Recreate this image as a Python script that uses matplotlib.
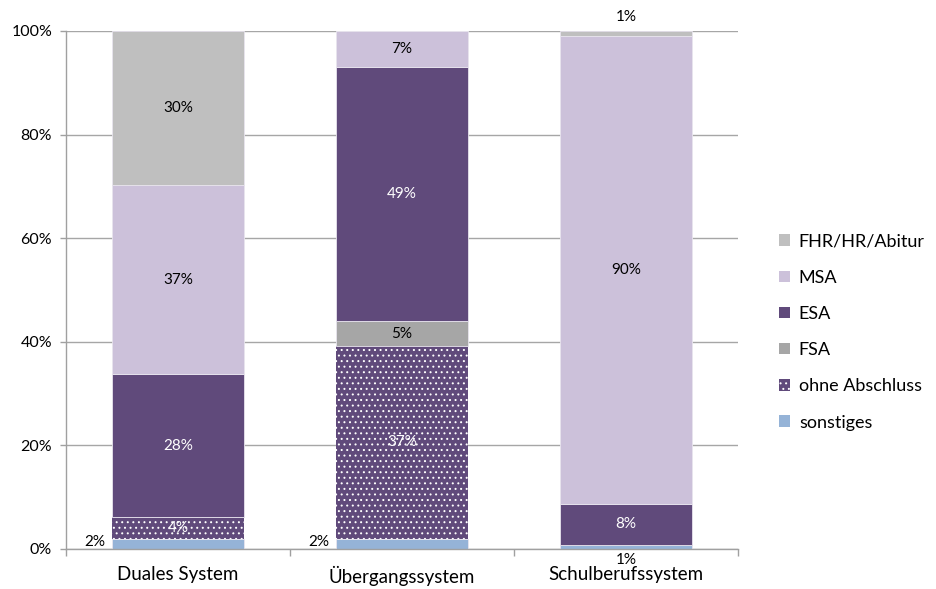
import matplotlib
matplotlib.use("Agg")
import matplotlib.pyplot as plt
import numpy as np
from matplotlib.patches import Patch

plt.rcParams['font.family'] = ['Lato', 'DejaVu Sans']
plt.rcParams['hatch.linewidth'] = 0.7

categories = ["Duales System", "Übergangssystem", "Schulberufssystem"]
series_names = ["sonstiges", "ohne Abschluss", "FSA", "ESA", "MSA", "FHR/HR/Abitur"]
sonstiges = [1.9, 2.0, 0.8]
ohne_abschluss = [4.2, 37.2, 0.0]
fsa = [0.0, 4.8, 0.0]
esa = [27.6, 49.0, 7.9]
msa = [36.6, 7.0, 90.3]
fhr = [29.7, 0.0, 1.0]
yticks = [0, 20, 40, 60, 80, 100]
ytick_labels = ["0%", "20%", "40%", "60%", "80%", "100%"]

series = [sonstiges, ohne_abschluss, fsa, esa, msa, fhr]
colors = ["#95B3D7", "#604A7B", "#A6A6A6", "#604A7B", "#CCC1DA", "#BFBFBF"]
hatches = [None, "...", None, None, None, None]
text_colors = ["black", "white", "black", "white", "black", "black"]

fig = plt.figure(figsize=(9.36, 5.89), dpi=100)
ax = fig.add_axes([66/936, 40/589, 672/936, 518/589])

x = np.arange(len(categories))
width = 0.59
bottom = np.zeros(len(categories))
fs_lab = 11
for i, (name, vals) in enumerate(zip(series_names, series)):
    vals = np.array(vals, dtype=float)
    if hatches[i]:
        ax.bar(x, vals, width, bottom=bottom, color=colors[i], edgecolor="white",
               hatch=hatches[i], linewidth=0, zorder=3)
    else:
        ax.bar(x, vals, width, bottom=bottom, color=colors[i], edgecolor="#E8E4EE",
               linewidth=0.6, zorder=3)
    for j, v in enumerate(vals):
        if v <= 0:
            continue
        lab = f"{int(round(v))}%"
        if i == 0 and v < 1:
            ax.text(x[j], -0.8, lab, ha="center", va="top", fontsize=fs_lab, color="black", zorder=5)
        elif i == 0 and v < 3:
            ax.text(x[j] - width/2 - 0.03, bottom[j] + v/2 + 0.4, lab, ha="right", va="center",
                    fontsize=fs_lab, color="black", zorder=5)
        elif i == len(series) - 1 and v < 3:
            ax.text(x[j], bottom[j] + v + 1.3, lab, ha="center", va="bottom", fontsize=fs_lab,
                    color="black", zorder=5)
        else:
            ax.text(x[j], bottom[j] + v/2, lab, ha="center", va="center", fontsize=fs_lab,
                    color=text_colors[i], zorder=5)
    bottom += vals

ax.set_xlim(-0.5, 2.5)
ax.set_ylim(0, 100)
ax.set_yticks(yticks)
ax.set_yticklabels(ytick_labels, fontsize=11.5)
ax.set_xticks(x)
ax.set_xticklabels(categories, fontsize=13.5)
ax.set_xticks([-0.5, 0.5, 1.5, 2.5], minor=True)
ax.tick_params(axis="x", which="major", length=0, pad=12)
ax.tick_params(axis="x", which="minor", length=5, color="#A0A0A0", width=1)
ax.tick_params(axis="y", length=4, color="#A0A0A0", width=1, pad=6)
ax.yaxis.grid(True, color="#A6A6A6", linewidth=1, zorder=0)
ax.set_axisbelow(True)
for s in ["top", "right"]:
    ax.spines[s].set_visible(False)
for s in ["left", "bottom"]:
    ax.spines[s].set_color("#A0A0A0")
    ax.spines[s].set_linewidth(1)
    ax.spines[s].set_zorder(4)

handles = []
for i in reversed(range(len(series_names))):
    handles.append(Patch(facecolor=colors[i], edgecolor="white" if hatches[i] else colors[i],
                         hatch=hatches[i], linewidth=0, label=series_names[i]))
leg = fig.legend(handles=handles, loc="center left", bbox_to_anchor=(779/936, 1 - 332/589),
                 frameon=False, fontsize=13, handlelength=0.6, handleheight=0.6,
                 handletextpad=0.5, labelspacing=1.12, borderpad=0, borderaxespad=0)

fig.savefig("out.png", dpi=100)
